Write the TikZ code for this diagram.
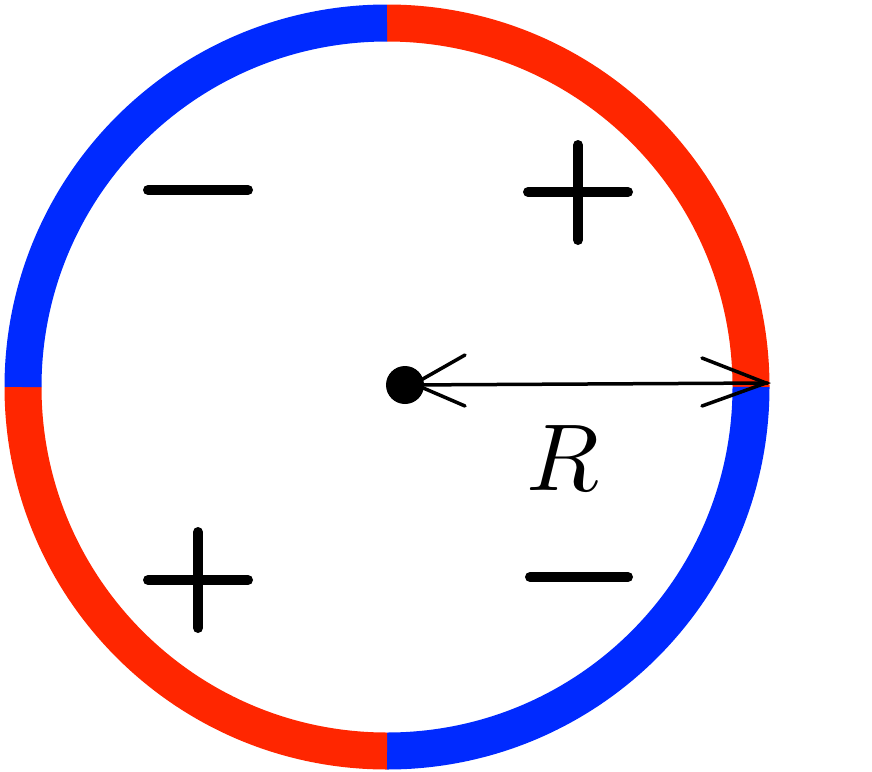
\documentclass[tikz,border=0pt]{standalone}
\definecolor{myblue}{RGB}{0,42,255}
\definecolor{myred}{RGB}{255,38,0}
\tikzset{ring/.style={line width=37pt},sign/.style={line width=10pt,line cap=round},arm/.style={line width=3.5pt,line cap=round}}
\begin{document}
\begin{tikzpicture}[x=1pt,y=-1pt]
\useasboundingbox (0,0) rectangle (872,771);
\coordinate (c) at (387,387);
\draw[ring,myred] (c) ++(0,-364) arc[start angle=-90,end angle=0,radius=364];
\draw[ring,myblue] (c) ++(364,0) arc[start angle=0,end angle=90,radius=364];
\draw[ring,myred] (c) ++(0,364) arc[start angle=90,end angle=180,radius=364];
\draw[ring,myblue] (c) ++(-364,0) arc[start angle=180,end angle=270,radius=364];
\coordinate (d) at (405,385);
\coordinate (e) at (768,383);
\fill (d) circle[radius=19];
\draw[line width=3.5pt] (d) -- (e);
\draw[arm] (465,355) -- (414,384) -- (465,406);
\draw[arm] (702,358) -- (766,383) -- (702,406);
\node[scale=9.5] (R) at (563,458) {$R$};
\draw[sign] (148,190) -- (248,190);
\draw[sign] (528,192) -- (628,192) (578,145) -- (578,240);
\draw[sign] (148,580) -- (248,580) (198,532) -- (198,628);
\draw[sign] (530,577) -- (628,577);
\end{tikzpicture}
\end{document}
